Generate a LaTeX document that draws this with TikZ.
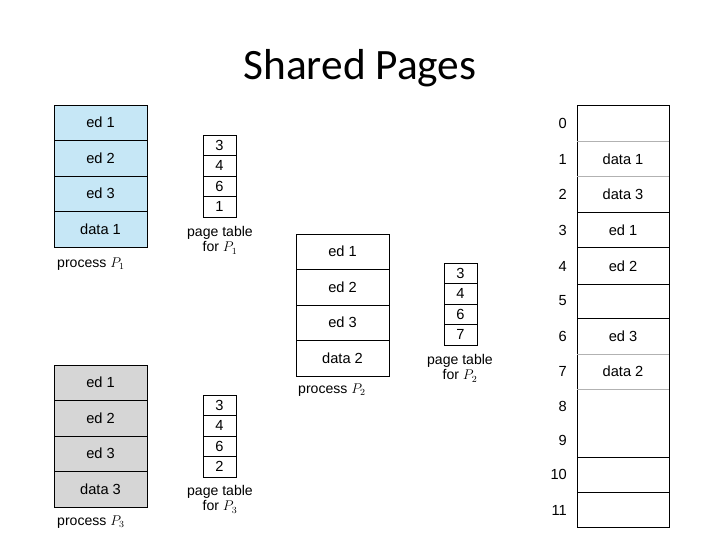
\documentclass[tikz,border=0pt]{standalone}
\usepackage{fontspec}
\setmainfont{Liberation Sans}
\newfontfamily\titlefont{Carlito}
\usetikzlibrary{positioning}
\definecolor{paleblue}{RGB}{198,231,246}
\definecolor{palegray}{RGB}{214,214,214}
\begin{document}
\begin{tikzpicture}[x=0.03cm,y=-0.03cm, node distance=0pt, font=\fontsize{12.5}{14}\selectfont]
% Define styles
\tikzstyle{cell} = [rectangle, minimum width=2.79cm, minimum height=1.065cm, outer sep=0pt, inner sep=0pt, text centered, draw=black]
\tikzstyle{entry} = [rectangle, minimum width=0.99cm, minimum height=0.615cm, outer sep=0pt, inner sep=0pt, text centered, draw=black, fill=white]
\tikzstyle{caption} = [align=center, inner sep=0pt, font=\fontsize{12}{13.5}\selectfont]
\useasboundingbox (0,0) rectangle (720,540);

% Title
\node [font=\titlefont\fontsize{37}{40}\selectfont] (title) at (360,68) {Shared Pages};

% Process P1
\node [cell, fill=paleblue, anchor=north west] (a1) at (54,105) {ed 1};
\node [cell, fill=paleblue, below=of a1] (a2) {ed 2};
\node [cell, fill=paleblue, below=of a2] (a3) {ed 3};
\node [cell, fill=paleblue, below=of a3] (a4) {data 1};
\node [caption, anchor=north west] (pa) at (57,258) {process $P_1$};

% Page table P1
\node [entry, anchor=north west] (ta1) at (203,135) {3};
\node [entry, below=of ta1] (ta2) {4};
\node [entry, below=of ta2] (ta3) {6};
\node [entry, below=of ta3] (ta4) {1};
\node [caption] (tpa) at (220,240) {page table\\for $P_1$};

% Process P2
\node [cell, fill=white, anchor=north west] (b1) at (296,234) {ed 1};
\node [cell, fill=white, below=of b1] (b2) {ed 2};
\node [cell, fill=white, below=of b2] (b3) {ed 3};
\node [cell, fill=white, below=of b3] (b4) {data 2};
\node [caption, anchor=north west] (pb) at (298,384) {process $P_2$};

% Page table P2
\node [entry, anchor=north west] (tb1) at (444,263) {3};
\node [entry, below=of tb1] (tb2) {4};
\node [entry, below=of tb2] (tb3) {6};
\node [entry, below=of tb3] (tb4) {7};
\node [caption] (tpb) at (460,368) {page table\\for $P_2$};

% Process P3
\node [cell, fill=palegray, anchor=north west] (c1) at (54,365) {ed 1};
\node [cell, fill=palegray, below=of c1] (c2) {ed 2};
\node [cell, fill=palegray, below=of c2] (c3) {ed 3};
\node [cell, fill=palegray, below=of c3] (c4) {data 3};
\node [caption, anchor=north west] (pc) at (57,516) {process $P_3$};

% Page table P3
\node [entry, anchor=north west] (tc1) at (203,395) {3};
\node [entry, below=of tc1] (tc2) {4};
\node [entry, below=of tc2] (tc3) {6};
\node [entry, below=of tc3] (tc4) {2};
\node [caption] (tpc) at (220,499) {page table\\for $P_3$};

% Physical memory
\draw (577,105) rectangle (669,527.5);
\foreach \y/\c in {141.5/black!30, 176.7/black!30, 212/black, 247.7/black, 284/black, 318.5/black, 354/black!30, 389/black!30, 457/black, 492.5/black}
  \draw [\c] (577,\y) -- (669,\y);
\foreach \n/\y in {0/123, 1/159, 2/194, 3/230, 4/266, 5/301, 6/336, 7/371, 8/406, 9/440, 10/474, 11/510}
  \node [anchor=east] (f\n) at (571,\y) {\n};
\foreach \n/\t/\y in {1/data 1/159, 2/data 3/194, 3/ed 1/230, 4/ed 2/266, 6/ed 3/336, 7/data 2/371}
  \node (m\n) at (623,\y) {\t};
\end{tikzpicture}
\end{document}
